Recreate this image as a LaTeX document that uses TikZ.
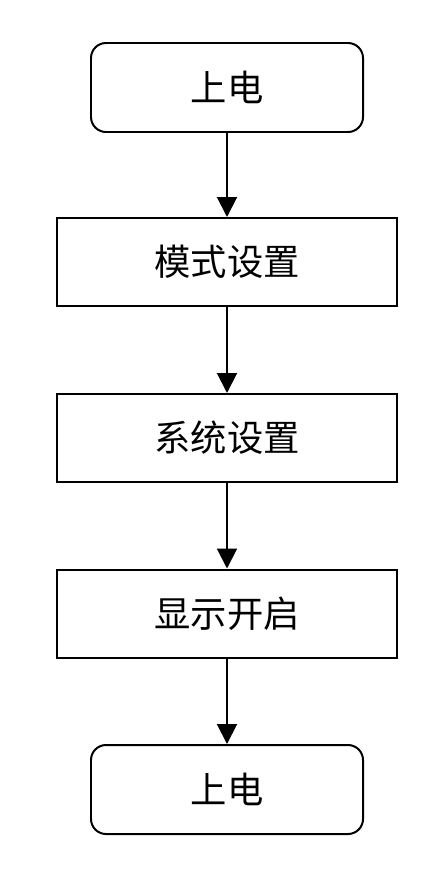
\documentclass[tikz,border=0pt]{standalone}
\usepackage{fontspec}
\usepackage{tikz}
\usepackage{xcolor}
\usetikzlibrary{positioning,arrows.meta,calc}
\newfontfamily\cjk{Noto Sans CJK SC}
\definecolor{ink}{HTML}{000000}
\tikzset{
  startend/.style = {draw=ink, fill=white, line width=1.7pt, rounded corners=4.5mm,
                     minimum width=81.6mm, minimum height=26.7mm, inner sep=0pt,
                     font=\cjk\fontsize{31}{36}\selectfont},
  proc/.style     = {draw=ink, fill=white, line width=1.7pt,
                     minimum width=102mm, minimum height=26.4mm, inner sep=0pt,
                     font=\cjk\fontsize{31}{36}\selectfont},
  flow/.style     = {-{Triangle[length=6mm, width=6mm]}, draw=ink, line width=1.7pt},
}

\begin{document}
\begin{tikzpicture}[x=0.3mm,y=-0.3mm]
\useasboundingbox (0,0) rectangle (441,875);

% ------------------------------------------------------------------ steps
\node[startend] (power1) at (227,87.5)  {上电};
\node[proc]     (mode)   at (227,262)   {模式设置};
\node[proc]     (sys)    at (227,438)   {系统设置};
\node[proc]     (disp)   at (227,613.5) {显示开启};
\node[startend] (power2) at (227,789.5) {上电};

\foreach \a/\b in {power1/mode, mode/sys, sys/disp, disp/power2}{\draw[flow] (\a) -- (\b);}

\end{tikzpicture}
\end{document}
